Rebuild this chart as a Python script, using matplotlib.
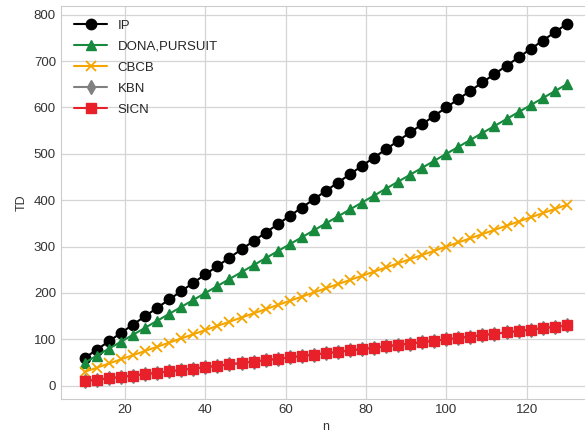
import matplotlib
matplotlib.use("Agg")
from matplotlib import pyplot as plt
import seaborn as sns

# data
n = [10, 13, 16, 19, 22, 25, 28, 31, 34, 37, 40, 43, 46, 49, 52, 55, 58, 61, 64, 67, 70,
     73, 76, 79, 82, 85, 88, 91, 94, 97, 100, 103, 106, 109, 112, 115, 118, 121, 124, 127, 130]
ip = [60, 78, 96, 114, 132, 150, 168, 186, 204, 222, 240, 258, 276, 294, 312, 330, 348, 366, 384, 402, 420,
      438, 456, 474, 492, 510, 528, 546, 564, 582, 600, 618, 636, 654, 672, 690, 708, 726, 744, 762, 780]
dona = [50, 65, 80, 95, 110, 125, 140, 155, 170, 185, 200, 215, 230, 245, 260, 275, 290, 305, 320, 335, 350,
        365, 380, 395, 410, 425, 440, 455, 470, 485, 500, 515, 530, 545, 560, 575, 590, 605, 620, 635, 650]
cbcb = [30, 39, 48, 57, 66, 75, 84, 93, 102, 111, 120, 129, 138, 147, 156, 165, 174, 183, 192, 201, 210,
        219, 228, 237, 246, 255, 264, 273, 282, 291, 300, 309, 318, 327, 336, 345, 354, 363, 372, 381, 390]
kbn = [10, 13, 16, 19, 22, 25, 28, 31, 34, 37, 40, 43, 46, 49, 52, 55, 58, 61, 64, 67, 70,
       73, 76, 79, 82, 85, 88, 91, 94, 97, 100, 103, 106, 109, 112, 115, 118, 121, 124, 127, 130]
sicn = [10, 13, 16, 19, 22, 25, 28, 31, 34, 37, 40, 43, 46, 49, 52, 55, 58, 61, 64, 67, 70,
        73, 76, 79, 82, 85, 88, 91, 94, 97, 100, 103, 106, 109, 112, 115, 118, 121, 124, 127, 130]

sns.set_style("whitegrid")
plt.rcParams['font.family'] = ['Liberation Sans', 'DejaVu Sans']

fig = plt.figure(figsize=(5.85, 4.36), dpi=100)
ax = fig.add_axes([0.104, 0.085, 0.906, 0.901])

ax.plot(n, ip, color='black', marker='o', markersize=7.5, linewidth=1.5, label='IP')
ax.plot(n, dona, color='#178a3e', marker='^', markersize=7.5, linewidth=1.5, label='DONA,PURSUIT')
ax.plot(n, cbcb, color='#f5a500', marker='x', markersize=7, markeredgewidth=1.3, linewidth=1.5, label='CBCB')
ax.plot(n, kbn, color='gray', marker='d', markersize=7.5, linewidth=1.5, label='KBN')
ax.plot(n, sicn, color='#e8202a', marker='s', markersize=7, linewidth=1.5, label='SICN')

# axes styling
for s in ax.spines.values():
    s.set_color('#cccccc')
ax.grid(color='#d5d5d5', linewidth=0.9)
ax.tick_params(labelsize=9.5, colors='#333333', length=0)
ax.set_xticks([20, 40, 60, 80, 100, 120])
ax.set_yticks([0, 100, 200, 300, 400, 500, 600, 700, 800])
ax.set_xlabel('n', fontsize=9, color='#333333')
ax.set_ylabel('TD', fontsize=9, color='#333333')

ax.legend(loc='upper left', frameon=False, fontsize=9.5, markerscale=1.0,
          handlelength=2.5, labelspacing=0.67, borderaxespad=0.6)

fig.savefig('out.png', dpi=100)
